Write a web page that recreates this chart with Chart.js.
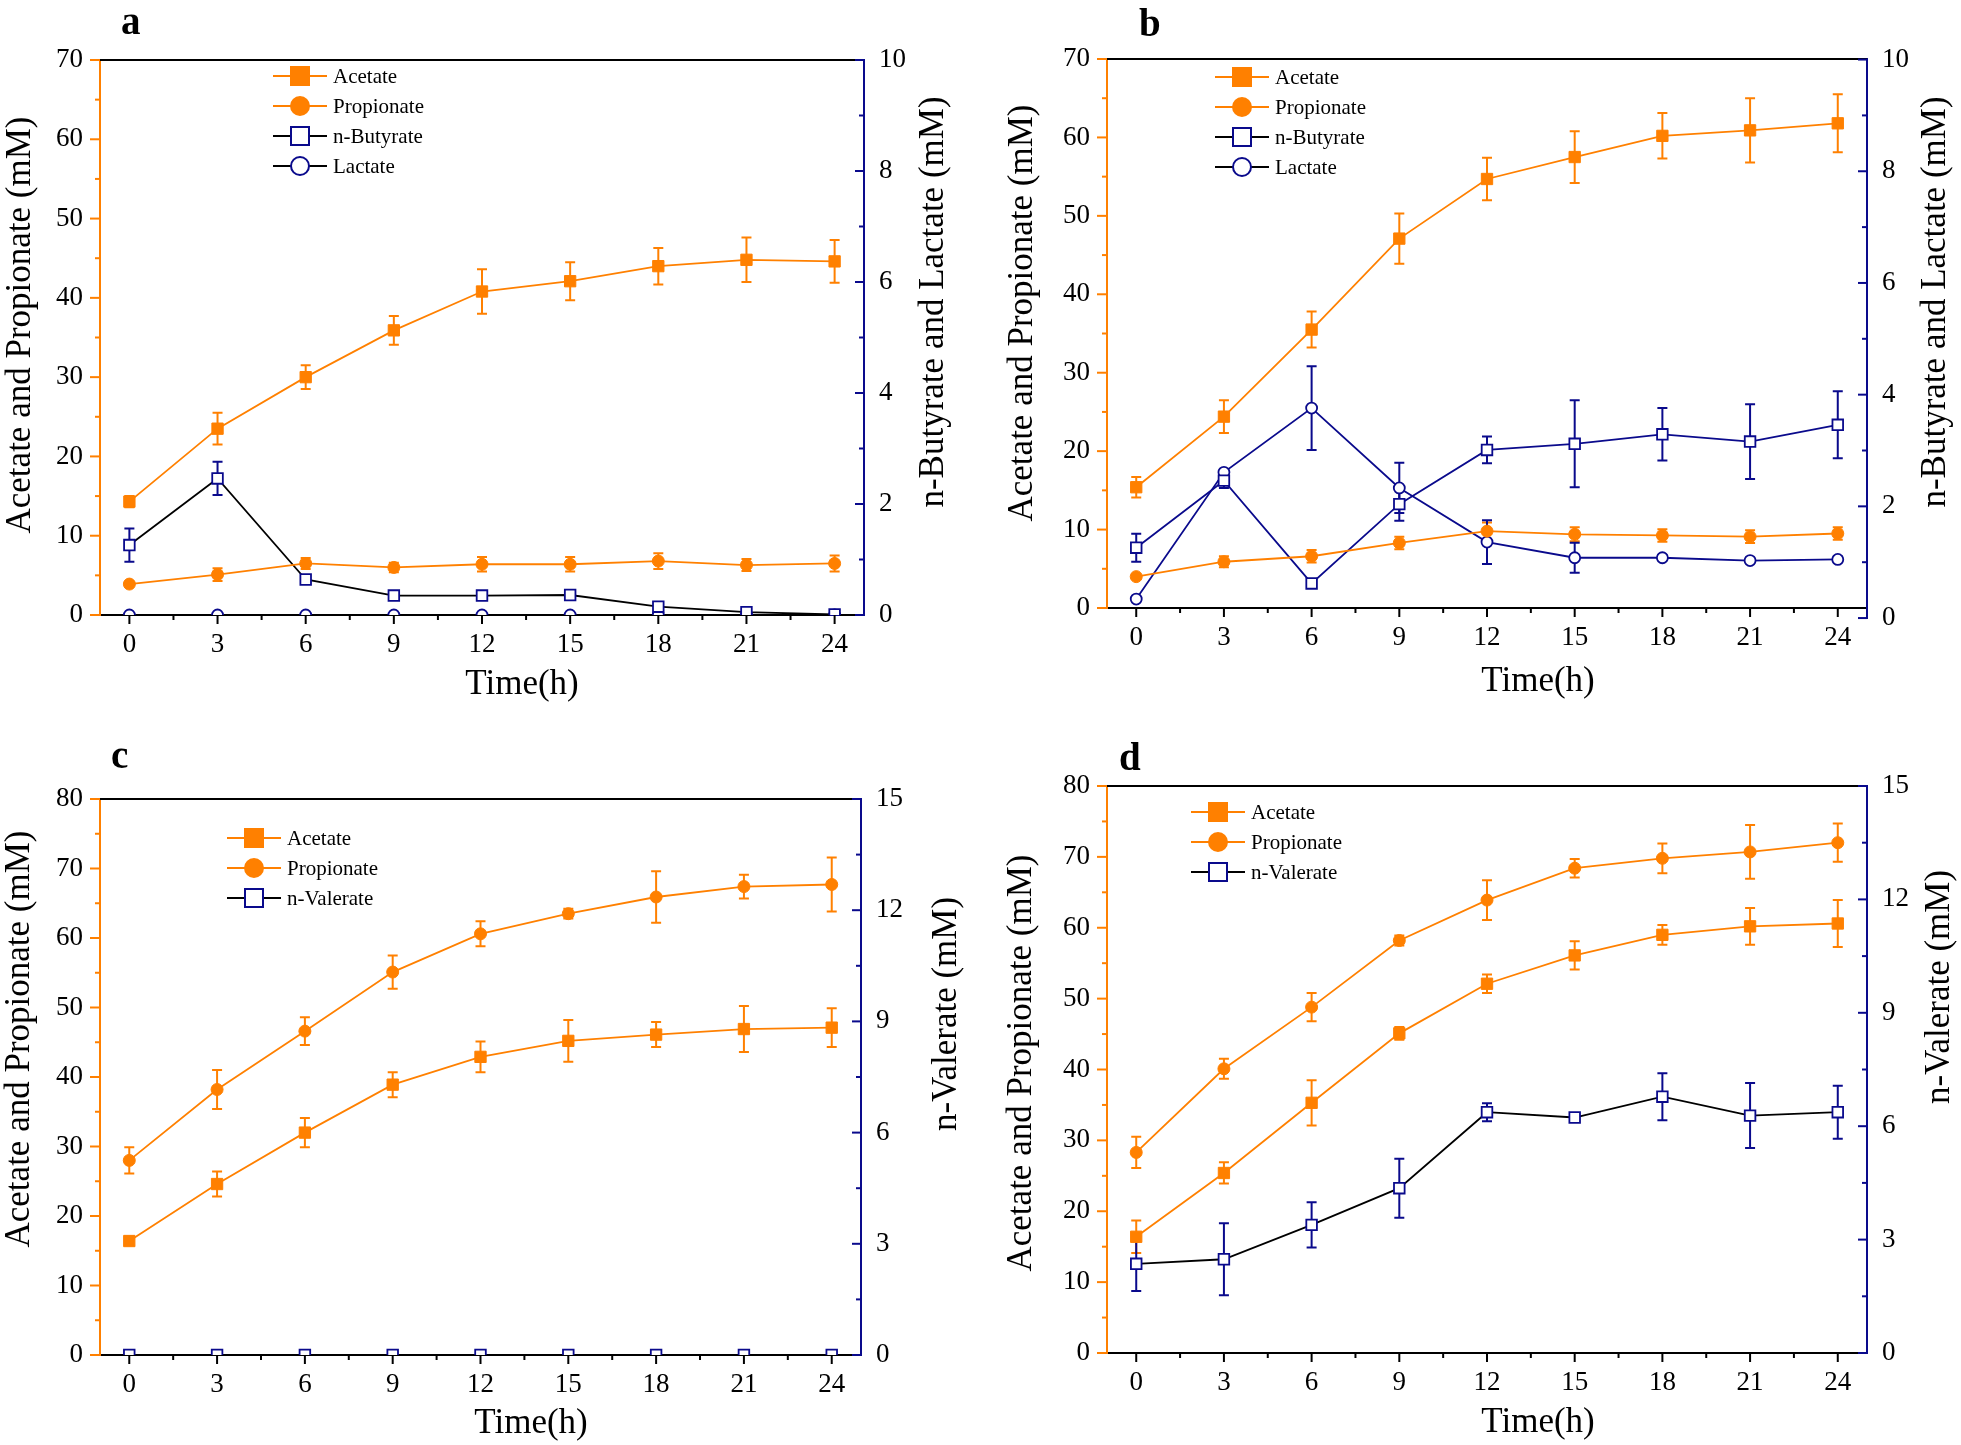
<!DOCTYPE html>
<html><head><meta charset="utf-8">
<script src="https://cdn.jsdelivr.net/npm/chart.js@4.4.0/dist/chart.umd.min.js"></script>
<style>
html,body{margin:0;padding:0;background:#fff;}
#wrap{position:relative;width:1961px;height:1445px;background:#fff;}
canvas{position:absolute;}
</style></head><body>
<div id="wrap">
<canvas id="ca" width="980" height="722" style="left:0;top:0"></canvas>
<canvas id="cb" width="981" height="722" style="left:980px;top:0"></canvas>
<canvas id="cc" width="980" height="723" style="left:0;top:722px"></canvas>
<canvas id="cd" width="981" height="723" style="left:980px;top:722px"></canvas>
</div>
<script>
// ---------- data ----------
const hours = [0,3,6,9,12,15,18,21,24];
const xTicks = [0,3,6,9,12,15,18,21,24];
const leftTicksAB = [0,10,20,30,40,50,60,70];
const rightTicksAB = [0,2,4,6,8,10];
const leftTicksCD = [0,10,20,30,40,50,60,70,80];
const rightTicksCD = [0,3,6,9,12,15];

// panel a
const aAcetate       = [14.3,23.5,30.0,35.9,40.8,42.1,44.0,44.8,44.6];
const aAcetateErr    = [0.7,2.0,1.5,1.8,2.8,2.4,2.3,2.8,2.7];
const aPropionate    = [3.9,5.1,6.5,6.0,6.4,6.4,6.8,6.3,6.5];
const aPropionateErr = [0.3,0.8,0.7,0.6,0.9,0.9,1.0,0.75,1.0];
const aButyrate      = [1.26,2.46,0.64,0.35,0.35,0.36,0.15,0.05,0.01];
const aButyrateErr   = [0.3,0.3,0.05,0.04,0.04,0.04,0.04,0.02,0.01];
const aLactate       = [0,0,0,0,0,0,0,0,0];
const aLactateErr    = [0,0,0,0,0,0,0,0,0];

// panel b
const bAcetate       = [15.4,24.4,35.5,47.1,54.7,57.5,60.2,60.9,61.8];
const bAcetateErr    = [1.3,2.1,2.3,3.2,2.7,3.3,2.9,4.1,3.7];
const bPropionate    = [4.0,5.9,6.6,8.3,9.8,9.4,9.25,9.1,9.5];
const bPropionateErr = [0.3,0.7,0.8,0.8,1.1,0.9,0.8,0.8,0.8];
const bButyrate      = [1.26,2.46,0.62,2.04,3.01,3.12,3.29,3.16,3.46];
const bButyrateErr   = [0.25,0.13,0.05,0.3,0.24,0.78,0.47,0.67,0.6];
const bLactate       = [0.34,2.61,3.76,2.33,1.36,1.08,1.08,1.03,1.05];
const bLactateErr    = [0.05,0.05,0.75,0.45,0.39,0.27,0.05,0.05,0.05];

// panel c
const cAcetate       = [16.4,24.6,32.0,38.9,42.9,45.2,46.1,46.9,47.1];
const cAcetateErr    = [0.6,1.8,2.1,1.8,2.2,3.0,1.8,3.3,2.8];
const cPropionate    = [28.0,38.2,46.6,55.1,60.6,63.5,65.9,67.4,67.7];
const cPropionateErr = [1.9,2.8,2.0,2.4,1.8,0.7,3.7,1.7,3.9];
const cValerate      = [0,0,0,0,0,0,0,0,0];
const cValerateErr   = [0,0,0,0,0,0,0,0,0];

// panel d
const dAcetate       = [16.4,25.4,35.3,45.1,52.1,56.1,59.0,60.2,60.6];
const dAcetateErr    = [2.3,1.5,3.2,0.9,1.3,2.0,1.4,2.6,3.3];
const dPropionate    = [28.3,40.1,48.8,58.2,63.9,68.4,69.8,70.7,72.0];
const dPropionateErr = [2.2,1.4,2.0,0.7,2.8,1.3,2.1,3.8,2.7];
const dValerate      = [2.36,2.48,3.39,4.36,6.37,6.23,6.78,6.28,6.37];
const dValerateErr   = [0.72,0.95,0.6,0.78,0.24,0.06,0.62,0.86,0.7];

// ---------- styles ----------
const ORANGE = '#FF8000', NAVY = '#0A0A8C', BLACK = '#000000';
const SERIF = '"Liberation Serif","Times New Roman",serif';
Chart.defaults.font.family = SERIF;
Chart.defaults.color = '#000';

function pts(v){ return hours.map((h,i)=>({x:h, y:v[i]})); }
function ds(label, vals, errs, o){
  const sq = o.shape === 'rect';
  return {
    label, data: pts(vals), errorBars: errs, yAxisID: o.axis,
    borderColor: o.line, borderWidth: 1.8, pointStyle: o.shape,
    pointRadius: sq ? (o.open ? 7.5 : 8) : (o.open ? 5.5 : 6),
    pointBackgroundColor: o.open ? '#ffffff' : o.mark,
    pointBorderColor: o.mark, pointBorderWidth: o.open ? 1.8 : 1,
    errColor: o.mark, legendLine: o.legendLine || o.line,
    tension: 0, fill: false, clip: 0
  };
}
const accSty = {shape:'rect', line:ORANGE, mark:ORANGE, axis:'y'};
const proSty = {shape:'circle', line:ORANGE, mark:ORANGE, axis:'y'};

// ---------- plugins ----------
const errorBarsPlugin = {
  id:'errorBars',
  beforeDatasetsDraw(chart){
    const ctx = chart.ctx;
    chart.data.datasets.forEach((d,i)=>{
      if(!d.errorBars) return;
      const meta = chart.getDatasetMeta(i);
      const ys = chart.scales[meta.yAxisID];
      ctx.save(); ctx.strokeStyle = d.errColor; ctx.lineWidth = 2;
      meta.data.forEach((pt,j)=>{
        const e = d.errorBars[j]; if(!e) return;
        const v = d.data[j].y;
        const x = pt.x, y1 = ys.getPixelForValue(v+e), y2 = ys.getPixelForValue(v-e);
        ctx.beginPath();
        ctx.moveTo(x,y1); ctx.lineTo(x,y2);
        ctx.moveTo(x-5,y1); ctx.lineTo(x+5,y1);
        ctx.moveTo(x-5,y2); ctx.lineTo(x+5,y2);
        ctx.stroke();
      });
      ctx.restore();
    });
  }
};

const framePlugin = {
  id:'frame',
  afterDraw(chart){
    const ctx = chart.ctx, ca = chart.chartArea;
    ctx.save();
    ctx.strokeStyle = BLACK; ctx.lineWidth = 2;
    ctx.beginPath(); ctx.moveTo(ca.left, ca.top); ctx.lineTo(ca.right, ca.top); ctx.stroke();
    const r = chart.scales.y1;
    const p0 = r.getPixelForValue(r.ticks[0].value);
    if (p0 > ca.bottom + 1){
      ctx.strokeStyle = NAVY;
      ctx.beginPath(); ctx.moveTo(ca.right, ca.bottom); ctx.lineTo(ca.right, p0+1); ctx.stroke();
    }
    // tick marks
    const axes = [
      {s:chart.scales.x, color:BLACK, major:9, minor:5},
      {s:chart.scales.y, color:ORANGE, major:10, minor:5},
      {s:chart.scales.y1, color:NAVY, major:9, minor:5}
    ];
    axes.forEach(a=>{
      const vals = a.s.ticks.map(t=>t.value);
      const minors = [];
      for(let i=0;i<vals.length-1;i++) minors.push((vals[i]+vals[i+1])/2);
      ctx.strokeStyle = a.color; ctx.lineWidth = 2;
      const draw = (v,len)=>{
        const p = a.s.getPixelForValue(v);
        ctx.beginPath();
        if (a.s.axis === 'x'){ ctx.moveTo(p, ca.bottom); ctx.lineTo(p, ca.bottom+len); }
        else if (a.s.position === 'left'){ ctx.moveTo(ca.left, p); ctx.lineTo(ca.left-len, p); }
        else { ctx.moveTo(ca.right, p); ctx.lineTo(ca.right-len, p); }
        ctx.stroke();
      };
      vals.forEach(v=>draw(v,a.major));
      minors.forEach(v=>draw(v,a.minor));
    });
    ctx.restore();
  }
};

const legendPlugin = {
  id:'lineLegend',
  afterDatasetsDraw(chart, args, opts){
    const ctx = chart.ctx, ca = chart.chartArea;
    const cx = ca.left + opts.dx; let cy = ca.top + opts.dy;
    chart.data.datasets.forEach(d=>{
      ctx.save();
      ctx.strokeStyle = d.legendLine; ctx.lineWidth = 2;
      ctx.beginPath(); ctx.moveTo(cx-27, cy); ctx.lineTo(cx+27, cy); ctx.stroke();
      ctx.fillStyle = d.pointBackgroundColor; ctx.strokeStyle = d.pointBorderColor; ctx.lineWidth = 2;
      ctx.beginPath();
      if (d.pointStyle === 'rect') ctx.rect(cx-9, cy-9, 18, 18); else ctx.arc(cx, cy, 9, 0, Math.PI*2);
      ctx.fill(); ctx.stroke();
      ctx.fillStyle = '#000'; ctx.font = '21px ' + SERIF;
      ctx.textBaseline = 'middle'; ctx.textAlign = 'left';
      ctx.fillText(d.label, cx+33, cy+1);
      ctx.restore();
      cy += opts.gap;
    });
  }
};

const textsPlugin = {
  id:'texts',
  afterDraw(chart, args, opts){
    const ctx = chart.ctx;
    (opts.items||[]).forEach(t=>{
      ctx.save();
      ctx.translate(t.x, t.y); ctx.rotate(t.rot||0);
      ctx.font = t.font; ctx.fillStyle = '#000';
      ctx.textAlign = t.align || 'center'; ctx.textBaseline = t.base || 'middle';
      ctx.fillText(t.text, 0, 0);
      ctx.restore();
    });
  }
};

function scales(c){
  const tickFont = {size:27, family:SERIF};
  return {
    x: {type:'linear', min:-1, max:25,
        afterBuildTicks: s=>{ s.ticks = xTicks.map(v=>({value:v})); },
        afterFit: s=>{ s.height = c.xh; },
        grid:{drawOnChartArea:false, drawTicks:false}, border:{color:BLACK, width:2},
        ticks:{padding:14, color:'#000', font:tickFont, autoSkip:false, maxRotation:0, callback:v=>String(v)}},
    y: {type:'linear', position:'left', min:0, max:c.lticks[c.lticks.length-1],
        afterBuildTicks: s=>{ s.ticks = c.lticks.map(v=>({value:v})); },
        afterFit: s=>{ s.width = c.lw; },
        grid:{drawOnChartArea:false, drawTicks:false}, border:{color:ORANGE, width:2},
        ticks:{padding:17, color:'#000', font:tickFont, autoSkip:false, callback:v=>String(v)}},
    y1:{type:'linear', position:'right', min:c.rmin, max:c.rmax,
        afterBuildTicks: s=>{ s.ticks = c.rticks.map(v=>({value:v})); },
        afterFit: s=>{ s.width = c.rw; },
        grid:{drawOnChartArea:false, drawTicks:false}, border:{color:NAVY, width:2},
        ticks:{padding:15, color:'#000', font:tickFont, autoSkip:false, callback:v=>String(v)}}
  };
}

const TF = '35px ' + SERIF, LF = 'bold 39px ' + SERIF;
const NEG = -Math.PI/2;

function make(id, datasets, c, leg, items){
  new Chart(document.getElementById(id), {
    type:'line',
    data:{datasets},
    options:{
      responsive:false, animation:false, events:[], devicePixelRatio:1,
      layout:{padding:{top:c.top, left:0, right:0, bottom:0}},
      scales: scales(c),
      plugins:{legend:{display:false}, tooltip:{enabled:false},
               lineLegend:leg, texts:{items}}
    },
    plugins:[errorBarsPlugin, framePlugin, legendPlugin, textsPlugin]
  });
}

// panel a
make('ca', [
  ds('Acetate', aAcetate, aAcetateErr, accSty),
  ds('Propionate', aPropionate, aPropionateErr, proSty),
  ds('n-Butyrate', aButyrate, aButyrateErr, {shape:'rect', open:true, line:BLACK, mark:NAVY, axis:'y1'}),
  ds('Lactate', aLactate, aLactateErr, {shape:'circle', open:true, line:BLACK, mark:NAVY, axis:'y1'})
], {top:60, lw:100, rw:116, xh:107, lticks:leftTicksAB, rticks:rightTicksAB, rmin:0, rmax:10},
{dx:200, dy:16, gap:30},
[
  {text:'a', x:121, y:34, font:LF, align:'left', base:'alphabetic'},
  {text:'Acetate and Propionate (mM)', x:21, y:325, rot:NEG, font:TF},
  {text:'n-Butyrate and Lactate (mM)', x:934, y:302, rot:NEG, font:TF},
  {text:'Time(h)', x:522, y:685, font:TF}
]);

// panel b
make('cb', [
  ds('Acetate', bAcetate, bAcetateErr, accSty),
  ds('Propionate', bPropionate, bPropionateErr, proSty),
  ds('n-Butyrate', bButyrate, bButyrateErr, {shape:'rect', open:true, line:NAVY, mark:NAVY, legendLine:BLACK, axis:'y1'}),
  ds('Lactate', bLactate, bLactateErr, {shape:'circle', open:true, line:NAVY, mark:NAVY, legendLine:BLACK, axis:'y1'})
], {top:59, lw:127, rw:94, xh:114, lticks:leftTicksAB, rticks:rightTicksAB, rmin:0.18, rmax:10.01},
{dx:135, dy:18, gap:30},
[
  {text:'b', x:159, y:36, font:LF, align:'left', base:'alphabetic'},
  {text:'Acetate and Propionate (mM)', x:43, y:313, rot:NEG, font:TF},
  {text:'n-Butyrate and Lactate (mM)', x:956, y:302, rot:NEG, font:TF},
  {text:'Time(h)', x:558, y:682, font:TF}
]);

// panel c
make('cc', [
  ds('Acetate', cAcetate, cAcetateErr, accSty),
  ds('Propionate', cPropionate, cPropionateErr, proSty),
  ds('n-Valerate', cValerate, cValerateErr, {shape:'rect', open:true, line:BLACK, mark:NAVY, axis:'y1'})
], {top:77, lw:100, rw:119, xh:90, lticks:leftTicksCD, rticks:rightTicksCD, rmin:0, rmax:15},
{dx:154, dy:39, gap:30},
[
  {text:'c', x:111, y:46, font:LF, align:'left', base:'alphabetic'},
  {text:'Acetate and Propionate (mM)', x:20, y:317, rot:NEG, font:TF},
  {text:'n-Valerate (mM)', x:947, y:292, rot:NEG, font:TF},
  {text:'Time(h)', x:531, y:702, font:TF}
]);

// panel d
make('cd', [
  ds('Acetate', dAcetate, dAcetateErr, accSty),
  ds('Propionate', dPropionate, dPropionateErr, proSty),
  ds('n-Valerate', dValerate, dValerateErr, {shape:'rect', open:true, line:BLACK, mark:NAVY, axis:'y1'})
], {top:64, lw:127, rw:94, xh:92, lticks:leftTicksCD, rticks:rightTicksCD, rmin:0, rmax:15},
{dx:111, dy:26, gap:30},
[
  {text:'d', x:139, y:48, font:LF, align:'left', base:'alphabetic'},
  {text:'Acetate and Propionate (mM)', x:42, y:341, rot:NEG, font:TF},
  {text:'n-Valerate (mM)', x:960, y:265, rot:NEG, font:TF},
  {text:'Time(h)', x:558, y:701, font:TF}
]);
</script>
</body></html>
